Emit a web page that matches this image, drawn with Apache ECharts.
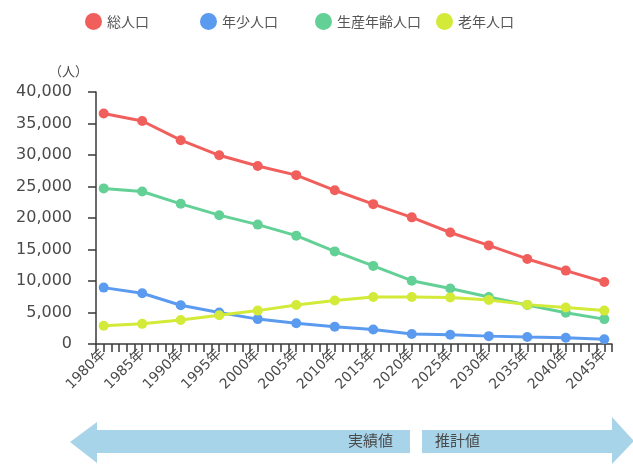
<!DOCTYPE html>
<html>
<head>
<meta charset="utf-8">
<script src="https://cdn.jsdelivr.net/npm/echarts@6/dist/echarts.min.js"></script>
<style>
html,body{margin:0;padding:0;background:#fff;}
#chart{width:633px;height:464px;}
</style>
</head>
<body>
<div id="chart"></div>
<script>
// ---- data ----
var years = [1980, 1985, 1990, 1995, 2000, 2005, 2010, 2015, 2020, 2025, 2030, 2035, 2040, 2045];
var seriesNames = ['総人口', '年少人口', '生産年齢人口', '老年人口'];
var totalPop   = [36600, 35400, 32350, 29950, 28250, 26800, 24400, 22200, 20100, 17700, 15650, 13500, 11650, 9850];
var youngPop   = [8950, 8050, 6150, 5000, 3950, 3300, 2750, 2300, 1600, 1480, 1250, 1100, 1000, 750];
var workingPop = [24700, 24200, 22250, 20450, 18950, 17200, 14700, 12400, 10050, 8800, 7450, 6200, 4950, 3950];
var elderlyPop = [2900, 3200, 3800, 4550, 5300, 6200, 6900, 7450, 7450, 7400, 7000, 6250, 5800, 5300];
var yTicks = [0, 5000, 10000, 15000, 20000, 25000, 30000, 35000, 40000];
var unitLabel = '（人）';
var actualLabel = '実績値';
var forecastLabel = '推計値';

var colors = ['#f15f5c', '#5a9bf0', '#63d095', '#d3ea38'];
var valuesList = [totalPop, youngPop, workingPop, elderlyPop];

function pairs(vals) {
  return years.map(function (y, i) { return [y, vals[i]]; });
}

var font = '"DejaVu Sans", "Noto Sans CJK JP", sans-serif';
var cjk = '"Noto Sans CJK JP", sans-serif';
var legendLefts = [80, 195, 310, 431];

var chart = echarts.init(document.getElementById('chart'), null, {renderer: 'canvas'});

var option = {
  animation: false,
  backgroundColor: '#ffffff',
  legend: seriesNames.map(function (n, i) {
    return {
      data: [n],
      left: legendLefts[i],
      top: 8,
      icon: 'circle',
      itemWidth: 17,
      itemHeight: 17,
      itemGap: 0,
      textStyle: {fontSize: 14, color: '#555', fontFamily: cjk}
    };
  }),
  grid: {left: 96, right: 21, top: 92, bottom: 120, containLabel: false},
  xAxis: {
    type: 'value',
    min: 1979,
    max: 2046,
    interval: 1,
    splitLine: {show: false},
    axisLine: {show: true, lineStyle: {color: '#3a3a3a', width: 1.5}},
    axisTick: {show: true, length: 8, lineStyle: {color: '#3a3a3a', width: 1.5}},
    axisLabel: {
      rotate: 45,
      margin: 8,
      fontSize: 14,
      color: '#4a4a4a',
      fontFamily: font,
      formatter: function (v) {
        return years.indexOf(v) >= 0 ? v + '年' : '';
      }
    }
  },
  yAxis: {
    type: 'value',
    min: yTicks[0],
    max: yTicks[yTicks.length - 1],
    interval: yTicks[1] - yTicks[0],
    name: unitLabel,
    nameLocation: 'end',
    nameGap: 14,
    nameTextStyle: {fontSize: 13, color: '#4a4a4a', fontFamily: cjk, align: 'right', padding: [0, 8, 0, 0]},
    splitLine: {show: false},
    axisLine: {show: true, lineStyle: {color: '#3a3a3a', width: 1.5}},
    axisTick: {show: true, length: 8, lineStyle: {color: '#3a3a3a', width: 1.5}},
    axisLabel: {
      margin: 24,
      fontSize: 16,
      color: '#4a4a4a',
      fontFamily: font,
      formatter: function (v) { return v.toLocaleString('en-US'); }
    }
  },
  series: seriesNames.map(function (n, i) {
    return {
      name: n,
      type: 'line',
      data: pairs(valuesList[i]),
      symbol: 'circle',
      symbolSize: 10,
      color: colors[i],
      lineStyle: {width: 3, color: colors[i]},
      itemStyle: {color: colors[i]}
    };
  }),
  graphic: [
    {
      type: 'polygon',
      shape: {points: [[70, 442], [97, 422], [97, 430], [410, 430], [410, 453], [97, 453], [97, 463]]},
      style: {fill: '#a8d4ea'},
      z: 1
    },
    {
      type: 'polygon',
      shape: {points: [[422, 430], [612, 430], [612, 417], [634, 441], [612, 464], [612, 453], [422, 453]]},
      style: {fill: '#a8d4ea'},
      z: 1
    },
    {
      type: 'text',
      left: 348,
      top: 433,
      style: {text: actualLabel, fill: '#4a4a4a', font: '15px "Noto Sans CJK JP", sans-serif'},
      z: 2
    },
    {
      type: 'text',
      left: 435,
      top: 433,
      style: {text: forecastLabel, fill: '#4a4a4a', font: '15px "Noto Sans CJK JP", sans-serif'},
      z: 2
    }
  ]
};
chart.setOption(option);
</script>
</body>
</html>
